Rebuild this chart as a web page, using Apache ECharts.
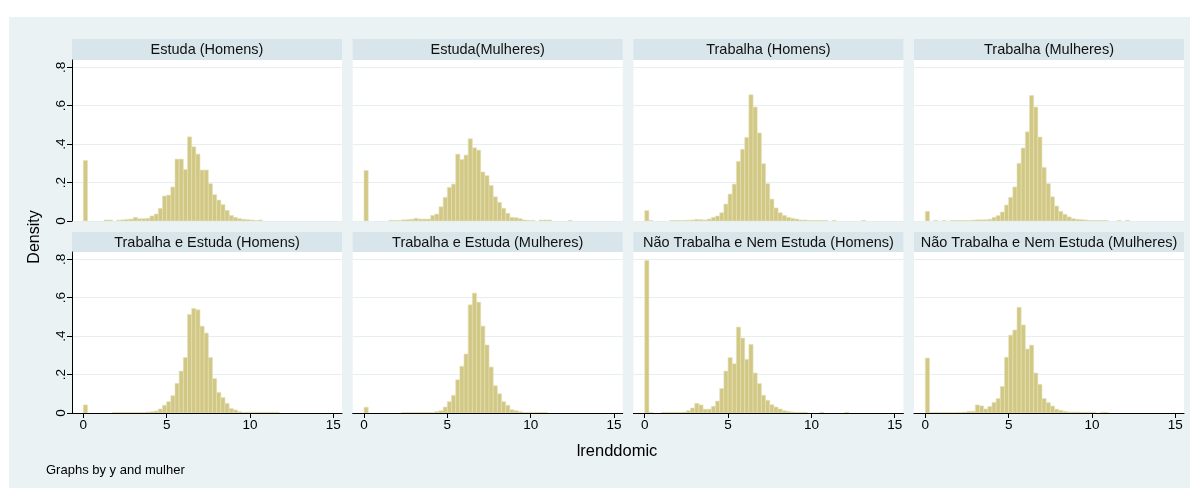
<!DOCTYPE html>
<html>
<head>
<meta charset="utf-8">
<script src="https://cdn.jsdelivr.net/npm/echarts@6/dist/echarts.min.js"></script>
<style>
  html, body { margin: 0; padding: 0; background: #fff; }
  #chart { position: absolute; left: 9px; top: 17px; width: 1181px; height: 471px; }
</style>
</head>
<body>
<div id="chart"></div>
<script>
// histogram bins: start at 0, width 0.25, value = density of bin k
var binStart = 0
var binWidth = 0.25

var panelTitles = [
  'Estuda (Homens)', 'Estuda(Mulheres)', 'Trabalha (Homens)', 'Trabalha (Mulheres)',
  'Trabalha e Estuda (Homens)', 'Trabalha e Estuda (Mulheres)',
  'Não Trabalha e Nem Estuda (Homens)', 'Não Trabalha e Nem Estuda (Mulheres)'
]

var estudaHomens = [0.315, 0, 0, 0, 0, 0.005, 0.005, 0, 0.004, 0.006, 0.008, 0.01, 0.019, 0.012, 0.012, 0.014,
  0.026, 0.036, 0.066, 0.13, 0.135, 0.177, 0.322, 0.322, 0.268, 0.438, 0.386, 0.348, 0.265, 0.265,
  0.194, 0.137, 0.109, 0.085, 0.055, 0.029, 0.019, 0.012, 0.009, 0.007, 0.005, 0.003, 0.005]

var estudaMulheres = [0.263, 0, 0, 0, 0, 0, 0.004, 0.003, 0.003, 0.006, 0.007, 0.009, 0.014, 0.01, 0.01, 0.01,
  0.029, 0.036, 0.074, 0.123, 0.175, 0.192, 0.348, 0.32, 0.343, 0.428, 0.381, 0.369, 0.255, 0.236,
  0.185, 0.126, 0.097, 0.066, 0.04, 0.019, 0.017, 0.012, 0.005, 0.003, 0.003, 0, 0.005, 0.005, 0.005,
  0, 0, 0, 0, 0.003]

var trabalhaHomens = [0.054, 0.003, 0, 0, 0, 0, 0.003, 0.003, 0.003, 0.003, 0.004, 0.005, 0.008, 0.007, 0.005, 0.01,
  0.019, 0.026, 0.043, 0.088, 0.14, 0.192, 0.31, 0.373, 0.435, 0.657, 0.593, 0.458, 0.298, 0.194,
  0.114, 0.068, 0.043, 0.029, 0.019, 0.014, 0.01, 0.005, 0.005, 0.003, 0.003, 0.003, 0.003, 0.003,
  0, 0.003, 0, 0, 0, 0, 0, 0, 0.003]

var trabalhaMulheres = [0.05, 0, 0.003, 0, 0.003, 0, 0.003, 0.003, 0.003, 0.003, 0.003, 0.004, 0.006, 0.006, 0.006, 0.009,
  0.019, 0.028, 0.047, 0.083, 0.123, 0.177, 0.3, 0.38, 0.464, 0.653, 0.593, 0.437, 0.279, 0.194,
  0.126, 0.078, 0.05, 0.035, 0.021, 0.012, 0.009, 0.007, 0.005, 0.003, 0.003, 0.003, 0.003, 0.003,
  0, 0, 0.003, 0, 0.003]

var teHomens = [0.042, 0, 0, 0, 0, 0, 0, 0.003, 0.003, 0.003, 0.003, 0.003, 0.003, 0.003, 0.003, 0.005,
  0.007, 0.01, 0.021, 0.04, 0.059, 0.09, 0.154, 0.218, 0.289, 0.513, 0.544, 0.537, 0.452, 0.416,
  0.289, 0.179, 0.107, 0.08, 0.05, 0.023, 0.016, 0.007, 0.004, 0.004, 0.004, 0.004, 0.004, 0.004,
  0.004, 0.004, 0.004]

var teMulheres = [0.03, 0, 0, 0, 0, 0, 0, 0, 0, 0.003, 0.003, 0.003, 0.003, 0.003, 0.003, 0.003,
  0.003, 0.007, 0.012, 0.031, 0.059, 0.092, 0.173, 0.243, 0.307, 0.563, 0.624, 0.577, 0.452, 0.354,
  0.239, 0.142, 0.1, 0.059, 0.04, 0.017, 0.012, 0.007, 0.003, 0.003, 0.003, 0.003, 0.003, 0.003]

var ntneHomens = [0.794, 0.003, 0, 0, 0.004, 0.004, 0.004, 0.004, 0.004, 0.005, 0.012, 0.026, 0.05, 0.042, 0.02, 0.02,
  0.035, 0.062, 0.127, 0.218, 0.288, 0.256, 0.447, 0.39, 0.279, 0.357, 0.208, 0.153, 0.092, 0.066,
  0.043, 0.031, 0.021, 0.012, 0.009, 0.005, 0.004, 0.004, 0.004, 0, 0, 0, 0.004, 0, 0, 0, 0, 0, 0.004]

var ntneMulheres = [0.286, 0.003, 0.003, 0.003, 0.003, 0.003, 0.003, 0.003, 0.004, 0.005, 0.009, 0.009, 0.042, 0.037, 0.021, 0.034,
  0.055, 0.075, 0.138, 0.29, 0.405, 0.432, 0.55, 0.458, 0.333, 0.353, 0.208, 0.149, 0.075, 0.054,
  0.036, 0.02, 0.014, 0.009, 0.005, 0.005, 0.005, 0.004, 0.004, 0.004, 0.004, 0, 0.004, 0.004]

var panels = [estudaHomens, estudaMulheres, trabalhaHomens, trabalhaMulheres,
  teHomens, teMulheres, ntneHomens, ntneMulheres]

var xTicks = [0, 5, 10, 15]
var yTicks = [0, 0.2, 0.4, 0.6, 0.8]

var colLeft = [63, 343.7, 624.4, 905]
var rowTop = [43, 235]
var plotW = 270
var plotH = 161
var font = "'Liberation Sans', Arial, sans-serif"

function toBins(values) {
  var out = []
  values.forEach(function (v, k) {
    if (v > 0) out.push([binStart + k * binWidth, binStart + (k + 1) * binWidth, v])
  })
  return out
}

function renderBin(params, api) {
  var p0 = api.coord([api.value(0), api.value(2)])
  var p1 = api.coord([api.value(1), 0])
  return {
    type: 'rect',
    shape: { x: p0[0], y: p0[1], width: p1[0] - p0[0], height: p1[1] - p0[1] },
    style: { fill: '#d2c886', stroke: '#e6e0b6', lineWidth: 0.6 }
  }
}

var grids = [], xAxes = [], yAxes = [], series = [], graphics = []

panels.forEach(function (vals, i) {
  var r = Math.floor(i / 4), c = i % 4
  var bottom = r === 1, left = c === 0
  grids.push({
    left: colLeft[c], top: rowTop[r], width: plotW, height: plotH,
    show: true, backgroundColor: '#fff', borderWidth: 0
  })
  xAxes.push({
    type: 'value', gridIndex: i, min: -0.68, max: 15.52,
    axisLine: { show: bottom, onZero: false, lineStyle: { color: '#000', width: 1 } },
    axisTick: { show: bottom, customValues: xTicks, length: 5, lineStyle: { color: '#000' } },
    axisLabel: { show: bottom, customValues: xTicks, margin: 5, color: '#000', fontSize: 13.5, fontFamily: font },
    splitLine: { show: false }
  })
  yAxes.push({
    type: 'value', gridIndex: i, min: 0, max: 0.838, interval: 0.2,
    axisLine: { show: left, onZero: false, lineStyle: { color: '#000', width: 1 } },
    axisTick: { show: left, customValues: yTicks, length: 5, lineStyle: { color: '#000' } },
    axisLabel: {
      show: left, customValues: yTicks, rotate: 90, margin: 4, color: '#000', fontSize: 13.5, fontFamily: font,
      formatter: function (v) { return v === 0 ? '0' : String(Math.round(v * 10) / 10).replace(/^0/, '') }
    },
    splitLine: { show: true, lineStyle: { color: '#e6eef0', width: 1 } }
  })
  series.push({
    type: 'custom', xAxisIndex: i, yAxisIndex: i, renderItem: renderBin, clip: true,
    data: toBins(vals)
  })
  var stripTop = r === 0 ? 22 : 215
  var stripH = r === 0 ? 21 : 20
  graphics.push({
    type: 'rect', left: colLeft[c], top: stripTop,
    shape: { width: plotW, height: stripH }, style: { fill: '#d8e5ea' }
  })
  graphics.push({
    type: 'text', x: colLeft[c] + plotW / 2, y: stripTop + stripH / 2 + 0.5,
    style: { text: panelTitles[i], fill: '#111', font: '14.5px ' + font, textAlign: 'center', textVerticalAlign: 'middle' }
  })
})

graphics.push({
  type: 'text', x: 26, y: 220, rotation: Math.PI / 2,
  style: { text: 'Density', fill: '#000', font: '16px ' + font, textAlign: 'center', textVerticalAlign: 'middle' }
})
graphics.push({
  type: 'text', x: 608, y: 434,
  style: { text: 'lrenddomic', fill: '#000', font: '16.5px ' + font, textAlign: 'center', textVerticalAlign: 'middle' }
})
graphics.push({
  type: 'text', x: 37, y: 453,
  style: { text: 'Graphs by y and mulher', fill: '#000', font: '13px ' + font, textAlign: 'left', textVerticalAlign: 'middle' }
})

var chart = echarts.init(document.getElementById('chart'))
chart.setOption({
  backgroundColor: '#eaf2f3',
  animation: false,
  grid: grids,
  xAxis: xAxes,
  yAxis: yAxes,
  series: series,
  graphic: graphics
})
</script>
</body>
</html>
